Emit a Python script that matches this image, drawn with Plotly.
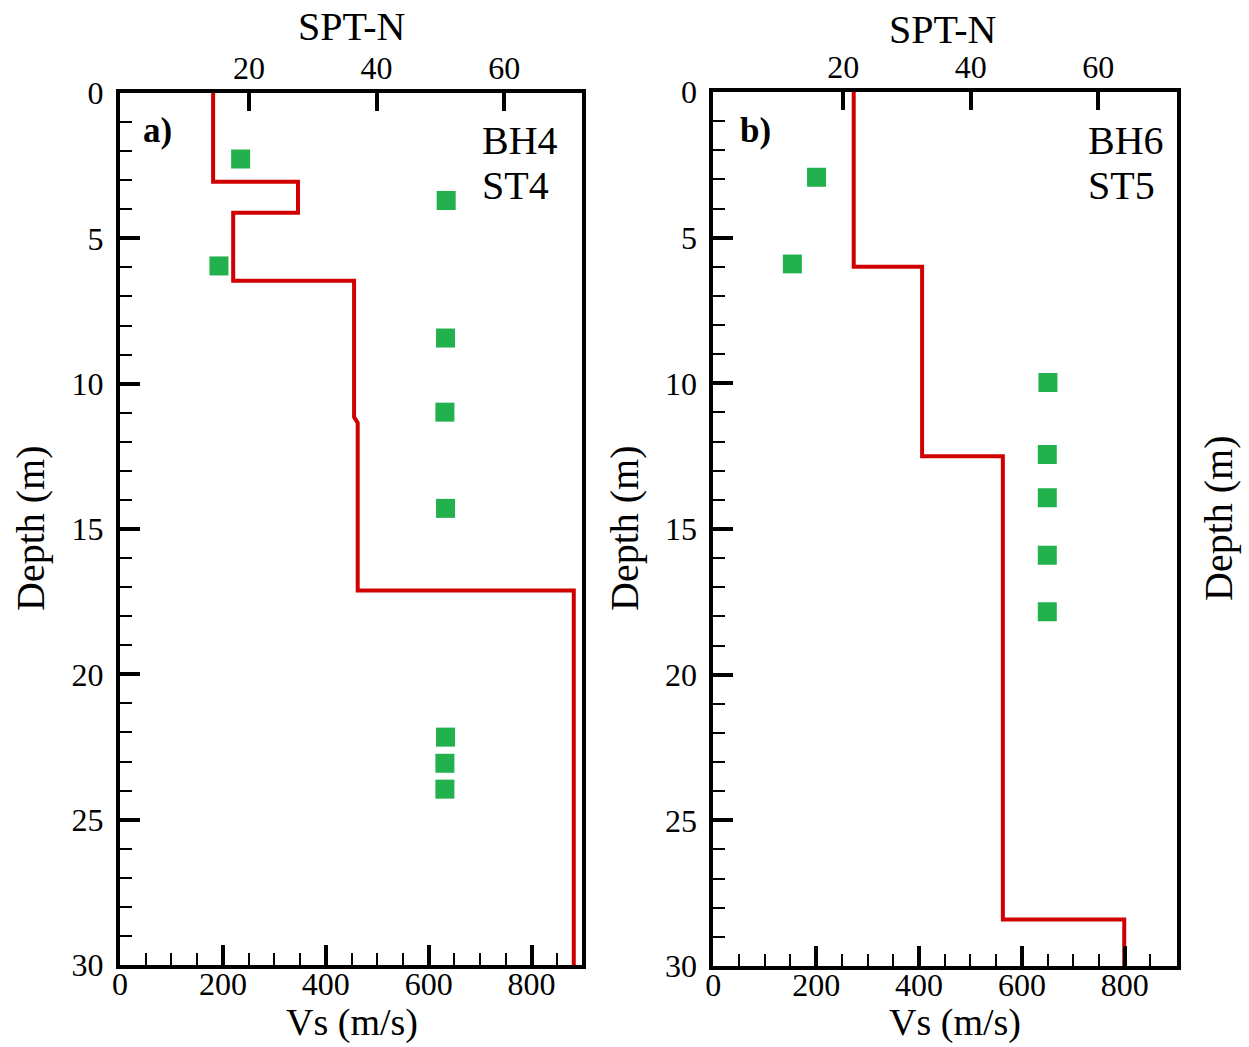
import plotly.graph_objects as go

W, H = 1249, 1047

# ---------------- data ----------------
# Panel a) BH4 / ST4
a_vs = [181, 181, 346, 346, 220, 220, 455, 455, 462, 462, 882, 882]
a_vs_depth = [0, 3.05, 3.05, 4.12, 4.12, 6.46, 6.46, 11.15, 11.35, 17.12, 17.12, 30]
a_spt = [18.7, 50.9, 15.3, 50.8, 50.7, 50.8, 50.8, 50.7, 50.7]
a_spt_depth = [2.27, 3.70, 5.95, 8.43, 10.98, 14.29, 22.16, 23.06, 23.95]

# Panel b) BH6 / ST5
b_vs = [273, 273, 406, 406, 563, 563, 799, 799]
b_vs_depth = [0, 6.0, 6.0, 12.5, 12.5, 28.4, 28.4, 30]
b_spt = [15.8, 12.0, 52.1, 52.0, 52.0, 52.0, 52.0]
b_spt_depth = [2.93, 5.90, 9.97, 12.44, 13.93, 15.90, 17.84]

vs_ticks = [0, 200, 400, 600, 800]
spt_ticks = [20, 40, 60]
depth_ticks = [0, 5, 10, 15, 20, 25, 30]

RED = "#D10000"
GREEN = "#22B14C"
FONT = "Liberation Serif"

def px_x(x):
    return x / W

def px_y(y):
    return 1 - y / H

fig = go.Figure()

fig.add_trace(go.Scatter(x=a_vs, y=a_vs_depth, mode="lines", xaxis="x", yaxis="y",
                         line=dict(color=RED, width=4), showlegend=False))
fig.add_trace(go.Scatter(x=a_spt, y=a_spt_depth, mode="markers", xaxis="x2", yaxis="y",
                         marker=dict(symbol="square", size=19, color=GREEN), showlegend=False))
fig.add_trace(go.Scatter(x=b_vs, y=b_vs_depth, mode="lines", xaxis="x3", yaxis="y2",
                         line=dict(color=RED, width=4), showlegend=False))
fig.add_trace(go.Scatter(x=b_spt, y=b_spt_depth, mode="markers", xaxis="x4", yaxis="y2",
                         marker=dict(symbol="square", size=19, color=GREEN), showlegend=False))

tickfont = dict(family=FONT, size=32, color="black")

def vs_axis(domain, rng, anchor):
    return dict(domain=domain, range=rng, anchor=anchor, side="bottom", automargin=False,
                tickmode="array", tickvals=vs_ticks, ticks="inside", ticklen=20, tickwidth=4,
                tickcolor="black", minor=dict(ticks="inside", dtick=50, ticklen=12, tickwidth=2,
                                              tickcolor="black"),
                showline=True, linewidth=4, linecolor="black", mirror=True,
                showgrid=False, zeroline=False, tickfont=tickfont, ticklabelstandoff=-12)

def spt_axis(domain, rng, overlay, anchor):
    return dict(domain=domain, range=rng, overlaying=overlay, anchor=anchor, side="top",
                automargin=False,
                tickmode="array", tickvals=spt_ticks, ticks="inside", ticklen=18, tickwidth=4,
                tickcolor="black", showline=True, linewidth=4, linecolor="black",
                showgrid=False, zeroline=False, tickfont=tickfont, ticklabelstandoff=-3)

def depth_axis(domain, anchor):
    return dict(domain=domain, range=[30, 0], anchor=anchor, automargin=False,
                tickmode="array", tickvals=depth_ticks, ticks="inside", ticklen=20, tickwidth=4,
                tickcolor="black", minor=dict(ticks="inside", dtick=1, ticklen=12, tickwidth=2,
                                              tickcolor="black"),
                showline=True, linewidth=4, linecolor="black", mirror=True,
                showgrid=False, zeroline=False, tickfont=tickfont, ticklabelstandoff=6)

a_dom_x = [px_x(120), px_x(581.5)]
a_dom_y = [px_y(965), px_y(93)]
b_dom_x = [px_x(713.3), px_x(1176.7)]
b_dom_y = [px_y(966), px_y(92)]

fig.update_layout(
    width=W, height=H,
    margin=dict(l=0, r=0, t=0, b=0, autoexpand=False),
    paper_bgcolor="white", plot_bgcolor="white",
    xaxis=vs_axis(a_dom_x, [0, 897], "y"),
    xaxis2=spt_axis(a_dom_x, [-0.2, 72.1], "x", "y"),
    yaxis=depth_axis(a_dom_y, "x"),
    xaxis3=vs_axis(b_dom_x, [0, 901], "y2"),
    xaxis4=spt_axis(b_dom_x, [-0.4, 72.3], "x3", "y2"),
    yaxis2=depth_axis(b_dom_y, "x3"),
)

def ann(text, x, y, size=40, angle=0, xanchor="center", bold=False):
    if bold:
        text = "<b>" + text + "</b>"
    fig.add_annotation(text=text, x=px_x(x), y=px_y(y), xref="paper", yref="paper",
                       showarrow=False, textangle=angle, xanchor=xanchor, yanchor="middle",
                       font=dict(family=FONT, size=size, color="black"))

# axis titles
ann("SPT-N", 351, 27)
ann("SPT-N", 942, 29)
ann("Vs (m/s)", 352, 1022, size=38)
ann("Vs (m/s)", 955, 1022, size=38)
ann("Depth (m)", 30, 528, angle=-90)
ann("Depth (m)", 624, 528, angle=-90)
ann("Depth (m)", 1218, 518, angle=-90)

# panel labels
ann("a)", 141, 130, size=35, xanchor="left", bold=True)
ann("b)", 738, 130, size=35, xanchor="left", bold=True)
ann("BH4", 480, 141, xanchor="left")
ann("ST4", 480, 186, xanchor="left")
ann("BH6", 1086, 141, xanchor="left")
ann("ST5", 1086, 186, xanchor="left")

fig.write_html("out.html")
